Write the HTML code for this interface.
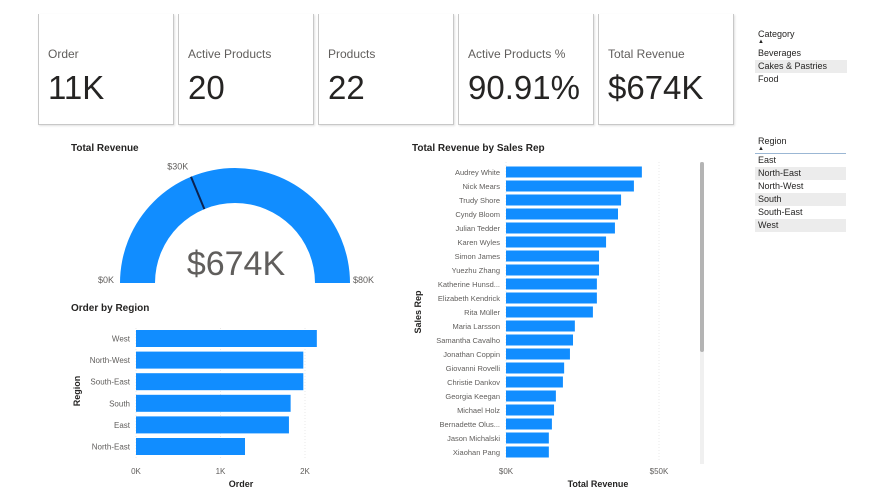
<!DOCTYPE html>
<html><head><meta charset="utf-8">
<style>
body{margin:0;width:882px;height:502px;background:#fff;font-family:"Liberation Sans","DejaVu Sans",sans-serif;overflow:hidden;position:relative}
.card{position:absolute;top:14px;height:110px;width:134px;border:1px solid #c8c8c8;border-top:none;box-shadow:1px 1px 2px rgba(0,0,0,.12)}
.card .lbl{position:absolute;left:9px;top:33px;font-size:12px;color:#605e5c}
.card .val{position:absolute;left:9px;top:55px;font-size:33px;color:#252423}
.slicer{position:absolute;font-size:9px;color:#252423}
.slicer div{height:13px;line-height:13px;padding-left:3px}
.sel{background:#ececec}
</style></head><body>
<div class="card" style="left:38px"><div class="lbl">Order</div><div class="val">11K</div></div>
<div class="card" style="left:178px"><div class="lbl">Active Products</div><div class="val">20</div></div>
<div class="card" style="left:318px"><div class="lbl">Products</div><div class="val">22</div></div>
<div class="card" style="left:458px"><div class="lbl">Active Products %</div><div class="val">90.91%</div></div>
<div class="card" style="left:598px"><div class="lbl">Total Revenue</div><div class="val">$674K</div></div>

<div class="slicer" style="left:755px;top:28px;width:92px">
<div style="padding-left:3px;height:12px">Category</div><div style="font-size:6px;height:7px;line-height:5px">▲</div>
<div>Beverages</div>
<div class="sel">Cakes &amp; Pastries</div>
<div>Food</div>
</div>
<div class="slicer" style="left:755px;top:135px;width:91px">
<div style="height:12px">Region</div><div style="font-size:6px;height:6px;line-height:5px;border-bottom:1px solid #9bb7d4">▲</div>
<div>East</div>
<div class="sel">North-East</div>
<div>North-West</div>
<div class="sel">South</div>
<div>South-East</div>
<div class="sel">West</div>
</div>

<svg width="882" height="502" style="position:absolute;left:0;top:0" id="svg" font-family="Liberation Sans, sans-serif">
<text x="71" y="151" font-size="10" font-weight="bold" fill="#252423">Total Revenue</text>
<path d="M120,283 A115,115 0 0 1 350,283 L315,283 A80,80 0 0 0 155,283 Z" fill="#118dff"/>
<g id="gauge"></g>
<text x="98" y="283" font-size="9" fill="#605e5c">$0K</text>
<text x="353" y="283" font-size="9" fill="#605e5c">$80K</text>
<text x="236" y="275" font-size="34" fill="#605e5c" text-anchor="middle">$674K</text>

<text x="71" y="311" font-size="10" font-weight="bold" fill="#252423">Order by Region</text>
<text transform="translate(80,391) rotate(-90)" font-size="9" font-weight="bold" fill="#252423" text-anchor="middle">Region</text>
<text x="241" y="487" font-size="9" font-weight="bold" fill="#252423" text-anchor="middle">Order</text>
<g id="region"></g>

<text x="412" y="151" font-size="10" font-weight="bold" fill="#252423">Total Revenue by Sales Rep</text>
<text transform="translate(421,312) rotate(-90)" font-size="9" font-weight="bold" fill="#252423" text-anchor="middle">Sales Rep</text>
<text x="598" y="487" font-size="9" font-weight="bold" fill="#252423" text-anchor="middle">Total Revenue</text>
<rect x="700" y="162" width="4" height="302" fill="#f0f0f0"/>
<rect x="700" y="162" width="4" height="190" rx="2" fill="#b4b4b4"/>
<g id="rep"></g>
</svg>
<script>
const NS="http://www.w3.org/2000/svg";
const gaugeMax=80, gaugeTarget=30;
const regionCats=["West","North-West","South-East","South","East","North-East"];
const regionVals=[2.14,1.98,1.98,1.83,1.81,1.29];
const regionTicks=[0,1,2];
const repCats=["Audrey White","Nick Mears","Trudy Shore","Cyndy Bloom","Julian Tedder","Karen Wyles","Simon James","Yuezhu Zhang","Katherine Hunsd...","Elizabeth Kendrick","Rita Müller","Maria Larsson","Samantha Cavalho","Jonathan Coppin","Giovanni Rovelli","Christie Dankov","Georgia Keegan","Michael Holz","Bernadette Olus...","Jason Michalski","Xiaohan Pang"];
const repVals=[44.4,41.8,37.6,36.6,35.6,32.7,30.4,30.4,29.7,29.7,28.4,22.5,21.9,20.9,19.0,18.6,16.3,15.7,15.0,14.0,14.0];
const repTicks=[0,50];
function mk(t,a,p,txt){const e=document.createElementNS(NS,t);for(const k in a)e.setAttribute(k,a[k]);if(txt!=null)e.textContent=txt;p.appendChild(e);return e;}
// gauge target
(function(){const g=document.getElementById('gauge');const cx=235,cy=283;const ang=Math.PI*(1-gaugeTarget/gaugeMax);
const l=mk('line',{x1:cx+80*Math.cos(ang),y1:cy-80*Math.sin(ang),x2:cx+115*Math.cos(ang),y2:cy-115*Math.sin(ang),stroke:'#0b2250','stroke-width':2},g);


const t=mk('text',{x:cx+122*Math.cos(ang),y:cy-122*Math.sin(ang)-1,'font-size':9,fill:'#605e5c','text-anchor':'end'},g,'$'+gaugeTarget+'K');

})();
// region chart
(function(){const g=document.getElementById('region');const x=v=>136+v*84.5;const y0=330,step=21.6,bh=17;
regionTicks.forEach(v=>{const gl=mk('line',{x1:x(v),x2:x(v),y1:328,y2:458,stroke:'#e8e8e8','stroke-dasharray':'1,2'},g);


const t=mk('text',{x:x(v),y:474,'font-size':8,fill:'#605e5c','text-anchor':'middle'},g,v+'K');

});
regionCats.forEach((c,i)=>{const yy=y0+i*step;const r=mk('rect',{x:x(0),y:yy,width:x(regionVals[i])-x(0),height:bh,fill:'#118dff'},g);


const t=mk('text',{x:130,y:yy+11.5,'font-size':8,fill:'#605e5c','text-anchor':'end'},g,c);

});})();
// rep chart
(function(){const g=document.getElementById('rep');const x=v=>506+v*3.06;const y0=166.5,step=14,bh=11;
repTicks.forEach(v=>{const gl=mk('line',{x1:x(v),x2:x(v),y1:162,y2:460,stroke:'#e8e8e8','stroke-dasharray':'1,2'},g);


const t=mk('text',{x:x(v),y:474,'font-size':8,fill:'#605e5c','text-anchor':'middle'},g,'$'+v+'K');

});
repCats.forEach((c,i)=>{const yy=y0+i*step;const r=mk('rect',{x:x(0),y:yy,width:x(repVals[i])-x(0),height:bh,fill:'#118dff'},g);


const t=mk('text',{x:500,y:yy+8.5,'font-size':7.5,fill:'#605e5c','text-anchor':'end'},g,c);

});})();
</script>
</body></html>
